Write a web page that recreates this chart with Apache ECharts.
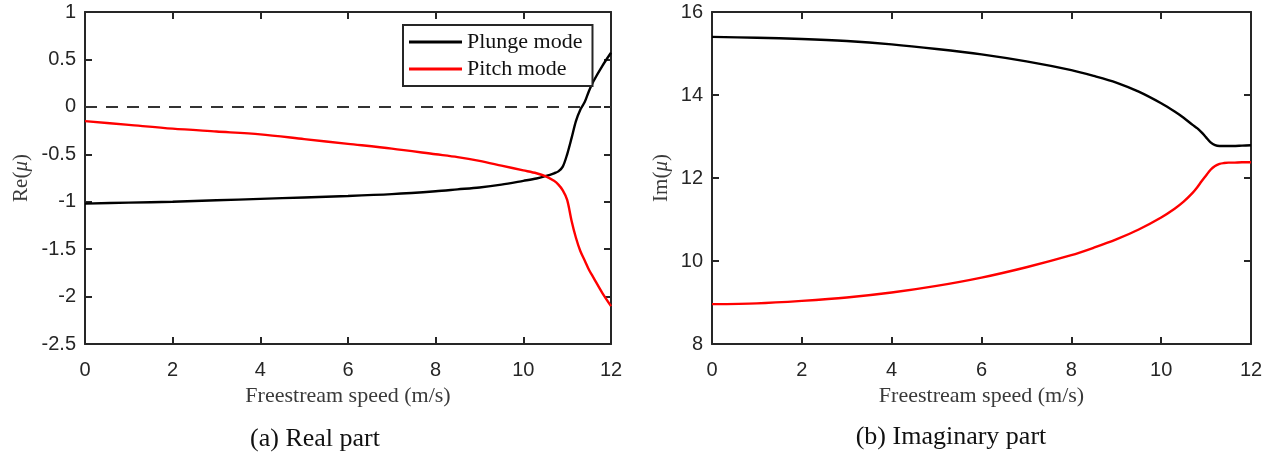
<!DOCTYPE html>
<html>
<head>
<meta charset="utf-8">
<script src="https://cdn.jsdelivr.net/npm/echarts@6/dist/echarts.min.js"></script>
<style>
  html, body { margin: 0; padding: 0; background: #fff; }
  #chart { width: 1279px; height: 459px; }
</style>
</head>
<body>
<div id="chart"></div>
<script>
// freestream speed samples (m/s)
const speeds = [0, 1, 2, 3, 4, 5, 6, 7, 8, 8.5, 9, 9.5, 10, 10.3, 10.5, 10.7, 10.8, 10.9, 11.0, 11.1, 11.2, 11.3, 11.4, 11.5, 11.6, 11.8, 12]

// real part
const rePlunge = [-1.02, -1.01, -1.0, -0.985, -0.97, -0.955, -0.94, -0.92, -0.89, -0.87, -0.85, -0.82, -0.78, -0.755, -0.73, -0.7, -0.68, -0.63, -0.5, -0.33, -0.15, -0.03, 0.05, 0.17, 0.27, 0.43, 0.57]
const rePitch = [-0.15, -0.19, -0.23, -0.26, -0.29, -0.34, -0.39, -0.44, -0.5, -0.53, -0.57, -0.62, -0.67, -0.7, -0.73, -0.78, -0.82, -0.88, -0.98, -1.2, -1.38, -1.52, -1.62, -1.72, -1.8, -1.96, -2.1]

// imaginary part
const imPlunge = [15.4, 15.38, 15.35, 15.3, 15.22, 15.11, 14.98, 14.81, 14.6, 14.46, 14.3, 14.08, 13.8, 13.6, 13.45, 13.28, 13.2, 13.1, 12.98, 12.86, 12.79, 12.77, 12.77, 12.77, 12.77, 12.78, 12.79]
const imPitch = [8.96, 8.98, 9.04, 9.12, 9.24, 9.4, 9.6, 9.85, 10.14, 10.32, 10.52, 10.76, 11.05, 11.26, 11.43, 11.64, 11.77, 11.92, 12.06, 12.2, 12.29, 12.34, 12.36, 12.37, 12.37, 12.38, 12.38]

const reRange = { min: -2.5, max: 1, interval: 0.5 }
const imRange = { min: 8, max: 16, interval: 2 }
const speedRange = { min: 0, max: 12, interval: 2 }

const axisColor = '#262626'
const sansFont = '"Liberation Sans", Arial, sans-serif'
const serifFont = '"Liberation Serif", "Times New Roman", serif'

function pairs (xs, ys) {
  return xs.map((x, i) => [x, ys[i]])
}

function xAxisFor (gridIndex) {
  const base = {
    type: 'value',
    gridIndex,
    min: speedRange.min,
    max: speedRange.max,
    interval: speedRange.interval,
    axisLine: { onZero: false, lineStyle: { color: axisColor, width: 2 } },
    axisTick: { inside: true, length: 7, lineStyle: { color: axisColor, width: 2 } },
    splitLine: { show: false }
  }
  return [
    Object.assign({}, base, {
      position: 'bottom',
      axisLabel: { color: axisColor, fontFamily: sansFont, fontSize: 20, margin: 16 },
      name: 'Freestream speed (m/s)',
      nameLocation: 'middle',
      nameGap: 41,
      nameTextStyle: { color: '#3a3a3a', fontFamily: serifFont, fontSize: 22 }
    }),
    Object.assign({}, base, { position: 'top', axisLabel: { show: false } })
  ]
}

function yAxisFor (gridIndex, range, name, gap) {
  const base = {
    type: 'value',
    gridIndex,
    min: range.min,
    max: range.max,
    interval: range.interval,
    axisLine: { show: true, onZero: false, lineStyle: { color: axisColor, width: 2 } },
    axisTick: { show: true, inside: true, length: 7, lineStyle: { color: axisColor, width: 2 } },
    splitLine: { show: false }
  }
  return [
    Object.assign({}, base, {
      position: 'left',
      axisLabel: { color: axisColor, fontFamily: sansFont, fontSize: 20, margin: 9 },
      name,
      nameLocation: 'middle',
      nameGap: gap,
      nameTextStyle: {
        color: '#3a3a3a',
        fontFamily: serifFont,
        fontSize: 21,
        rich: { i: { fontStyle: 'italic', fontFamily: serifFont, fontSize: 21, color: '#3a3a3a' } }
      }
    }),
    Object.assign({}, base, { position: 'right', axisLabel: { show: false } })
  ]
}

function lineSeries (name, color, xi, yi, data, extra) {
  return Object.assign({
    name,
    type: 'line',
    xAxisIndex: xi,
    yAxisIndex: yi,
    data,
    showSymbol: false,
    symbol: 'none',
    smooth: 0.3,
    lineStyle: { color, width: 2.4 },
    itemStyle: { color },
    z: 3
  }, extra || {})
}

const chart = echarts.init(document.getElementById('chart'), null, { renderer: 'canvas' })

chart.setOption({
  animation: false,
  backgroundColor: '#fff',
  grid: [
    { left: 85, top: 12, width: 526, height: 332 },
    { left: 712, top: 12, width: 539, height: 332 }
  ],
  legend: {
    data: ['Plunge mode', 'Pitch mode'],
    orient: 'vertical',
    left: 403,
    top: 25,
    icon: 'rect',
    itemWidth: 53,
    itemHeight: 3,
    itemGap: 5,
    padding: [6, 10, 6, 6],
    backgroundColor: '#fff',
    borderColor: axisColor,
    borderWidth: 2,
    textStyle: { color: '#111', fontFamily: serifFont, fontSize: 22 }
  },
  xAxis: [...xAxisFor(0), ...xAxisFor(1)],
  yAxis: [
    ...yAxisFor(0, reRange, 'Re({i|μ})', 53),
    ...yAxisFor(1, imRange, 'Im({i|μ})', 40)
  ],
  series: [
    lineSeries('Plunge mode', '#000', 0, 0, pairs(speeds, rePlunge), {
      markLine: {
        silent: true,
        symbol: 'none',
        label: { show: false },
        lineStyle: { color: '#333', type: [12, 9], width: 2 },
        data: [{ yAxis: 0 }]
      }
    }),
    lineSeries('Pitch mode', '#ff0000', 0, 0, pairs(speeds, rePitch)),
    lineSeries('Plunge mode', '#000', 2, 2, pairs(speeds, imPlunge)),
    lineSeries('Pitch mode', '#ff0000', 2, 2, pairs(speeds, imPitch))
  ],
  graphic: [
    {
      type: 'text',
      x: 315,
      y: 439,
      style: { text: '(a) Real part', font: '26px ' + serifFont, fill: '#111', align: 'center', verticalAlign: 'middle' }
    },
    {
      type: 'text',
      x: 951,
      y: 437,
      style: { text: '(b) Imaginary part', font: '26px ' + serifFont, fill: '#111', align: 'center', verticalAlign: 'middle' }
    }
  ]
})
</script>
</body>
</html>
